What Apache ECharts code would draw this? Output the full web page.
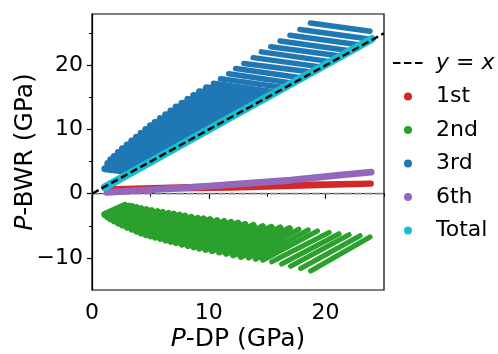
<!DOCTYPE html>
<html>
<head>
<meta charset="utf-8">
<script src="https://cdn.jsdelivr.net/npm/echarts@6/dist/echarts.min.js"></script>
<style>
html,body{margin:0;padding:0;background:#fff;}
#chart{width:498px;height:354px;}
</style>
</head>
<body>
<div id="chart"></div>
<script>
// ticks
var xMajor=[0,10,20];
var xMinor=[5,15,25];
var yMajor=[-10,0,10,20];
var yMinor=[-5,5,15,25];

// legend names
var names=['y = x','1st','2nd','3rd','6th','Total'];

// stripes: [x start, y start, x end, y end]
// (right ends of 3rd run on under the Total band)
var third=[
    [18.7,26.6,23.8,25.3],[17.8,25.6,23.7,24.1],[16.95,24.7,22.96,23.16],[16.1,23.8,22.08,22.28],
    [15.3,22.9,21.26,21.46],[14.5,22.1,20.38,20.58],[13.8,21.2,19.56,19.76],[13.0,20.3,18.76,18.96],
    [12.3,19.5,17.87,18.07],[11.7,18.7,17.06,17.26],[11.0,17.9,16.36,16.56],[10.4,17.2,15.66,15.86],
    [9.8,16.5,14.96,15.16],[9.2,15.9,14.42,14.62],[8.7,15.3,13.86,14.06],[8.2,14.7,13.27,13.47],
    [7.7,14.1,12.68,12.88],[7.2,13.5,12.12,12.32],[6.75,12.9,11.52,11.72],[6.3,12.3,10.97,11.17],
    [5.85,11.7,10.42,10.62],[5.4,11.1,9.82,10.02],[5.0,10.6,9.37,9.57],[4.6,10.0,8.77,8.97],
    [4.2,9.4,8.22,8.42],[3.8,8.8,7.67,7.87],[3.4,8.2,7.12,7.32],[3.0,7.6,6.52,6.72],
    [2.6,7.0,5.97,6.17],[2.25,6.4,5.42,5.62],[1.9,5.8,4.87,5.07],[1.6,5.3,4.42,4.62],
    [1.35,4.7,3.87,4.07],[1.1,3.9,3.22,3.42]
];
var second=[
    [1.1,-3.25,2.8,-1.85],[1.35,-3.6,3.15,-1.95],[1.6,-3.9,3.45,-2.05],[1.9,-4.2,3.8,-2.2],
    [2.25,-4.55,4.2,-2.35],[2.6,-4.85,4.65,-2.5],[3.0,-5.2,5.1,-2.65],[3.4,-5.5,5.6,-2.8],
    [3.8,-5.8,6.05,-2.95],[4.2,-6.1,6.55,-3.1],[4.6,-6.35,7.0,-3.2],[5.0,-6.55,7.5,-3.35],
    [5.4,-6.75,7.95,-3.5],[5.85,-6.95,8.5,-3.7],[6.3,-7.2,9.05,-3.85],[6.75,-7.4,9.55,-3.95],
    [7.2,-7.6,10.1,-4.05],[7.7,-7.85,10.7,-4.2],[8.2,-8.05,11.3,-4.35],[8.7,-8.25,11.9,-4.5],
    [9.2,-8.45,12.5,-4.6],[9.75,-8.65,13.1,-4.8],[10.3,-8.85,13.8,-4.95],[10.9,-9.05,14.6,-5.15],
    [11.5,-9.25,15.35,-5.25],[12.1,-9.5,16.1,-5.35],[12.75,-9.75,16.9,-5.45],[13.4,-10.0,17.7,-5.55],
    [14.0,-10.2,18.5,-5.65],[14.62,-10.35,19.3,-5.8],[15.39,-10.6,20.3,-6.05],[16.24,-10.95,21.15,-6.25],
    [17.01,-11.3,22.0,-6.4],[17.87,-11.65,22.95,-6.55],[18.72,-12.05,23.8,-6.75]
];
// bands as polylines
var firstA=[[1.3,0.6],[12,0.85],[23.9,1.5]];
var firstB=[[1.3,0.75],[6,1.0],[12,1.3],[23.9,1.65]];
var sixth=[[1.3,0.2],[8.5,1.0],[17,2.1],[21.4,2.95],[23.9,3.35]];
var total=[[1.1,1.0],[12,12.05],[23.95,24.1]];
var identity=[[0,0],[25,25]];
var zeroLine=[[0,0],[25,0]];

var colors={'1st':'#d62728','2nd':'#2ca02c','3rd':'#1f77b4','6th':'#9467bd','Total':'#17becf'};
var font='DejaVu Sans';

function lineSeries(name,data,color,width,z,type){
    return {
        name:name,
        type:'line',
        data:data,
        symbol:'none',
        silent:true,
        z:z,
        color:color,
        itemStyle:{color:color},
        lineStyle:{width:width,color:color,cap:'round',join:'round',type:type||'solid'},
    };
}
//dense part of a band gets a wider stroke so it closes up
function stripes(name,list,split,wide,thin,z){
    return list.map(function(s){
        return lineSeries(name,[[s[0],s[1]],[s[2],s[3]]],colors[name],s[0]<split?wide:thin,z);
    });
}

var series=[];
series.push(lineSeries('zero',zeroLine,'#808080',1.8,2,[7,3.5]));
series.push(lineSeries('1st',firstA,colors['1st'],5.2,3));
series.push(lineSeries('1st',firstB,colors['1st'],5.2,3));
series=series.concat(stripes('2nd',second,12.8,7.2,5.2,4));
series=series.concat(stripes('3rd',third,10.2,7,5.5,5));
series.push(lineSeries('6th',sixth,colors['6th'],6.8,6));
series.push(lineSeries('Total',total,colors['Total'],8,7));
var idLine=lineSeries('y = x',identity,'#000',2.4,8,[7.5,3.5]);
idLine.lineStyle.cap='butt';
series.push(idLine);

var rich={i:{fontStyle:'italic',fontSize:22,fontFamily:font,color:'#000'}};
var nameRich={i:{fontStyle:'italic',fontSize:25,fontFamily:font,color:'#000'}};
var nameText={fontSize:25,fontFamily:font,color:'#000',rich:nameRich};

function minus(v){
    return v<0?'\u2212'+Math.abs(v):String(v);
}

var chart=echarts.init(document.getElementById('chart'),null,{renderer:'canvas'});
chart.setOption({
    animation:false,
    backgroundColor:'#fff',
    grid:{left:92,right:114,top:14,bottom:64,show:true,borderColor:'#000',borderWidth:1.2,outerBoundsMode:'none',containLabel:false},
    legend:{
        orient:'vertical',
        left:387,
        top:45,
        itemWidth:30,
        itemHeight:8,
        itemGap:7.5,
        selectedMode:false,
        data:names.map(function(n){
            return n==='y = x'?{name:n,itemStyle:{opacity:0}}:{name:n,icon:'circle'};
        }),
        formatter:function(n){
            return n==='y = x'?'{i|y} = {i|x}':n;
        },
        textStyle:{fontSize:22,fontFamily:font,color:'#000',lineHeight:26,padding:[0,0,0,8],rich:rich},
    },
    xAxis:[
        {
            type:'value',min:0,max:25,position:'bottom',
            axisLine:{show:true,lineStyle:{color:'#000',width:1.2}},
            axisTick:{show:true,customValues:xMajor,length:5,lineStyle:{color:'#000',width:1.2}},
            axisLabel:{customValues:xMajor,fontSize:22,fontFamily:font,color:'#000',margin:12,formatter:minus},
            splitLine:{show:false},
            name:'{i|P}-DP (GPa)',nameLocation:'middle',nameGap:37,nameMoveOverlap:false,nameTextStyle:nameText,
        },
        {
            type:'value',min:0,max:25,position:'bottom',
            axisLine:{show:false},
            axisTick:{show:true,customValues:xMinor,length:3,lineStyle:{color:'#000',width:1}},
            axisLabel:{show:false},
            splitLine:{show:false},
        },
    ],
    yAxis:[
        {
            type:'value',min:-15,max:28,position:'left',
            axisLine:{show:true,lineStyle:{color:'#000',width:1.2}},
            axisTick:{show:true,customValues:yMajor,length:5,lineStyle:{color:'#000',width:1.2}},
            axisLabel:{customValues:yMajor,fontSize:22,fontFamily:font,color:'#000',margin:9,formatter:minus},
            splitLine:{show:false},
            name:'{i|P}-BWR (GPa)',nameLocation:'middle',nameRotate:90,nameGap:54,nameMoveOverlap:false,nameTextStyle:nameText,
        },
        {
            type:'value',min:-15,max:28,position:'left',
            axisLine:{show:false},
            axisTick:{show:true,customValues:yMinor,length:3,lineStyle:{color:'#000',width:1}},
            axisLabel:{show:false},
            splitLine:{show:false},
        },
    ],
    series:series,
});
</script>
</body>
</html>
